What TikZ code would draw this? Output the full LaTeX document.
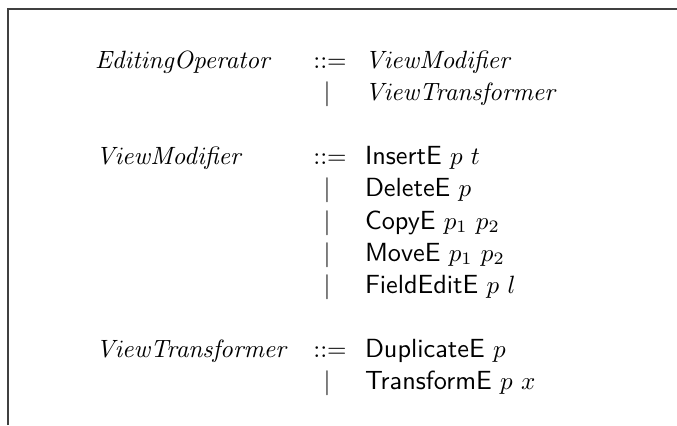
\documentclass[tikz,border=0pt]{standalone}
\begin{document}
\begin{tikzpicture}[x=0.4pt,y=-0.4pt,
  lhs/.style={anchor=base west, inner sep=0pt, outer sep=0pt},
  mid/.style={anchor=base, inner sep=0pt, outer sep=0pt},
  rhs/.style={anchor=base west, inner sep=0pt, outer sep=0pt},
  frameline/.style={line width=0.8pt, draw=black!75}]
\newcommand\ctor[1]{{\fontsize{10.5}{12}\selectfont\sffamily #1}}
\useasboundingbox (0,0) rectangle (677,425);
\coordinate (fbl) at (7.5,425);
\coordinate (ftl) at (7.5,9.5);
\coordinate (ftr) at (677,9.5);
\draw[frameline] (fbl) -- (ftl) -- (ftr);
% group 1
\node[lhs] (l1) at (95,69) {$\mathit{EditingOperator}$};
\node[mid] (m1) at (330,69) {$::=$};
\node[rhs] (r1) at (365,69) {$\mathit{ViewModifier}$};
\node[mid] (m2) at (327,101) {$|$};
\node[rhs] (r2) at (365,101) {$\mathit{ViewTransformer}$};
% group 2
\node[lhs] (l3) at (96,165) {$\mathit{ViewModifier}$};
\node[mid] (m3) at (330,165) {$::=$};
\node[rhs] (r3) at (365,165) {\ctor{InsertE} $p$ $t$};
\node[mid] (m4) at (327,197) {$|$};
\node[rhs] (r4) at (365,197) {\ctor{DeleteE} $p$};
\node[mid] (m5) at (327,229) {$|$};
\node[rhs] (r5) at (365,229) {\ctor{CopyE} $p_1$ $p_2$};
\node[mid] (m6) at (327,261) {$|$};
\node[rhs] (r6) at (365,261) {\ctor{MoveE} $p_1$ $p_2$};
\node[mid] (m7) at (327,293) {$|$};
\node[rhs] (r7) at (365,293) {\ctor{FieldEditE} $p$ $l$};
% group 3
\node[lhs] (l8) at (96,357) {$\mathit{ViewTransformer}$};
\node[mid] (m8) at (330,357) {$::=$};
\node[rhs] (r8) at (365,357) {\ctor{DuplicateE} $p$};
\node[mid] (m9) at (327,389) {$|$};
\node[rhs] (r9) at (365,389) {\ctor{TransformE} $p$ $x$};
\end{tikzpicture}
\end{document}
